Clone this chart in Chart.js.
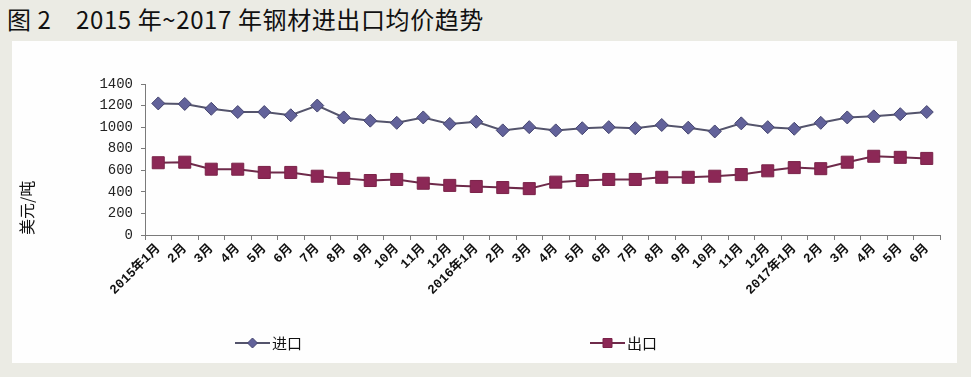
<!DOCTYPE html>
<html>
<head>
<meta charset="utf-8">
<script src="https://cdn.jsdelivr.net/npm/chart.js@4/dist/chart.umd.min.js"></script>
<style>
  body { margin: 0; background: #ebebe4; width: 971px; height: 377px; overflow: hidden; position: relative; }
  .title { position: absolute; left: 7px; top: 1px; font: 24px "Noto Sans CJK SC", sans-serif; letter-spacing: 0.6px; color: #111; white-space: pre; }
  .panel { position: absolute; left: 12px; top: 41px; width: 945px; height: 322px; background: #fefefe; }
</style>
</head>
<body>
<div class="title">图 2　2015 年~2017 年钢材进出口均价趋势</div>
<div class="panel"><canvas id="priceChart"></canvas></div>
<script>
    // month labels, 2015-01 .. 2017-06
    const months = ['2015年1月', '2月', '3月', '4月', '5月', '6月', '7月', '8月', '9月', '10月', '11月', '12月',
                    '2016年1月', '2月', '3月', '4月', '5月', '6月', '7月', '8月', '9月', '10月', '11月', '12月',
                    '2017年1月', '2月', '3月', '4月', '5月', '6月'];
    // average prices, USD per tonne
    const importPrice = [1220, 1215, 1170, 1140, 1140, 1110, 1200, 1090, 1060, 1040, 1090, 1030,
                         1050, 970, 1000, 970, 990, 1000, 990, 1020, 995, 960, 1035, 1000,
                         985, 1040, 1090, 1100, 1120, 1140];
    const exportPrice = [670, 675, 610, 610, 580, 580, 545, 525, 505, 515, 480, 460,
                         450, 440, 430, 490, 505, 515, 515, 535, 535, 545, 560, 595,
                         625, 615, 675, 730, 720, 710];
    const yTicks = [0, 200, 400, 600, 800, 1000, 1200, 1400];

    // legend drawn below the axis labels, like the original spreadsheet chart
    const bottomLegend = {
        id: 'bottomLegend',
        afterDraw(chart) {
            const ctx = chart.ctx;
            const spots = [223, 578];
            chart.data.datasets.forEach((ds, i) => {
                const x = spots[i], y = 302;
                ctx.save();
                ctx.strokeStyle = ds.borderColor;
                ctx.lineWidth = 2;
                ctx.beginPath();
                ctx.moveTo(x, y);
                ctx.lineTo(x + 35, y);
                ctx.stroke();
                ctx.fillStyle = ds.pointBackgroundColor;
                ctx.strokeStyle = ds.pointBorderColor;
                ctx.lineWidth = 1;
                ctx.beginPath();
                const cx = x + 17.5;
                if (ds.pointStyle === 'rectRot') {
                    ctx.moveTo(cx, y - 5); ctx.lineTo(cx + 5, y); ctx.lineTo(cx, y + 5); ctx.lineTo(cx - 5, y);
                } else {
                    ctx.rect(cx - 4.5, y - 4.5, 9, 9);
                }
                ctx.closePath();
                ctx.fill();
                ctx.stroke();
                ctx.fillStyle = '#111';
                ctx.font = '15px "Noto Sans CJK SC", sans-serif';
                ctx.textBaseline = 'middle';
                ctx.fillText(ds.label, x + 37, y);
                ctx.restore();
            });
        }
    };

    const ctx = document.getElementById('priceChart').getContext('2d');
    new Chart(ctx, {
        type: 'line',
        data: {
            labels: months,
            datasets: [
                {
                    label: '进口',
                    data: importPrice,
                    borderColor: '#54546c',
                    borderWidth: 2,
                    pointStyle: 'rectRot',
                    pointRadius: 6.5,
                    pointBackgroundColor: '#62629a',
                    pointBorderColor: '#44446e',
                    pointBorderWidth: 1,
                    tension: 0
                },
                {
                    label: '出口',
                    data: exportPrice,
                    borderColor: '#6e2a4a',
                    borderWidth: 2,
                    pointStyle: 'rect',
                    pointRadius: 8.5,
                    pointBackgroundColor: '#8c2856',
                    pointBorderColor: '#7a2248',
                    pointBorderWidth: 1,
                    tension: 0
                }
            ]
        },
        options: {
            responsive: true,
            maintainAspectRatio: false,
            animation: false,
            layout: { padding: { left: 3, right: 17, top: 43, bottom: 0 } },
            plugins: {
                legend: { display: false },
                tooltip: { enabled: false }
            },
            scales: {
                x: {
                    offset: true,
                    grid: {
                        offset: true,
                        drawOnChartArea: false,
                        tickLength: 5,
                        tickColor: '#7a7a7a'
                    },
                    border: { color: '#7a7a7a', width: 1 },
                    ticks: {
                        autoSkip: false,
                        minRotation: 45,
                        maxRotation: 45,
                        padding: 1,
                        color: '#111',
                        font: { family: '"Liberation Mono", "Noto Sans CJK SC", monospace', size: 13, weight: 'bold' }
                    },
                    afterFit(scale) { scale.height = 128; }
                },
                y: {
                    min: 0,
                    max: 1400,
                    afterBuildTicks(scale) { scale.ticks = yTicks.map(v => ({ value: v })); },
                    grid: {
                        drawOnChartArea: false,
                        tickLength: 4,
                        tickColor: '#7a7a7a'
                    },
                    border: { color: '#7a7a7a', width: 1 },
                    ticks: {
                        padding: 8,
                        color: '#222',
                        font: { family: '"Liberation Mono", monospace', size: 14 },
                        callback: function(value) {
                            return String(value);
                        }
                    },
                    title: {
                        display: true,
                        text: '美元/吨',
                        align: 'start',
                        color: '#111',
                        padding: { top: 2, bottom: 0 },
                        font: { family: '"Noto Sans CJK SC", sans-serif', size: 16 }
                    },
                    afterFit(scale) { scale.width = 130; }
                }
            }
        },
        plugins: [bottomLegend]
    });
</script>
</body>
</html>
